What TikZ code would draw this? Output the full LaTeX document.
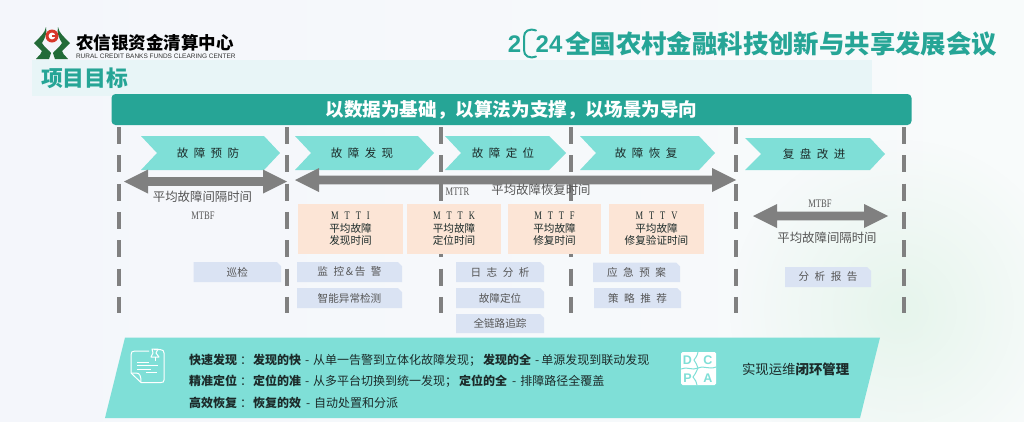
\documentclass[tikz,border=0pt]{standalone}
\usepackage{fontspec}
\setmainfont{Noto Sans CJK SC}
\newfontfamily\latinfont{Liberation Sans}
\newfontfamily\serifmarkfont{Liberation Serif}
\usetikzlibrary{fadings}
\definecolor{tealdark}{HTML}{26A596}
\definecolor{teallight}{HTML}{7FDFD7}
\definecolor{peach}{HTML}{FCE5D6}
\definecolor{tagblue}{HTML}{DAE3F3}
\definecolor{dashgray}{HTML}{808080}
\definecolor{labelgray}{HTML}{555555}
\definecolor{inkdark}{HTML}{1C2B2A}
\definecolor{logogreen}{HTML}{236B38}
\definecolor{logored}{HTML}{D8392B}
\definecolor{bgleft}{HTML}{F4F6FB}
\definecolor{bgright}{HTML}{F8FBFB}
\definecolor{bgblob}{HTML}{E6F5EC}
\definecolor{bandcol}{HTML}{E8F5F7}
\tikzfading[name=softblob,inner color=transparent!0,outer color=transparent!100]
\tikzset{
  x=1pt,y=-1pt,
  every node/.style={inner sep=0pt,outer sep=0pt},
  sep/.style={draw=dashgray,line width=4pt,dash pattern=on 17pt off 11.3pt},
  chevfill/.style={fill=teallight},
  chevtext/.style={font=\fontsize{11.5}{13}\selectfont,text=inkdark},
  arrowfill/.style={fill=dashgray},
  graylabel/.style={font=\fontsize{12.4}{14}\selectfont,text=labelgray},
  serifmark/.style={text=labelgray},
  peachbox/.style={fill=peach,align=center,text=inkdark,font=\fontsize{10.6}{12.6}\selectfont},
  tagtext/.style={font=\fontsize{10.6}{13}\selectfont,text=labelgray},
  bodyline/.style={anchor=west,font=\fontsize{12}{14}\selectfont,text=inkdark},
  iconline/.style={draw=white,line width=1pt,line join=round},
  pdcaletter/.style={font=\fontsize{12.5}{14}\latinfont\bfseries,text=teallight},
}
\newcommand{\chev}[6]{% name x1 notch shoulder y1 x2
  \fill[chevfill] (#2,#5) -- (#4,#5) -- (#6,{(#5+\ybot)/2}) -- (#4,\ybot) -- (#2,\ybot) -- (#3,{(#5+\ybot)/2}) -- cycle;
}
\newcommand{\tagbox}[6]{% name x1 x2 y1 y2 text
  \fill[tagblue] (#2,#4) -- (#3-4,#4) -- (#3,#4+4) -- (#3,#5) -- (#2,#5) -- cycle;
  \node[tagtext] (#1) at ({(#2+#3)/2},{(#4+#5)/2}) {#6};
}
\newcommand{\dblarrow}[4]{% x1 x2 y headhalf
  \fill[arrowfill] (#1,#3) -- (#1+24,#3-#4) -- (#1+24,#3-4.3) -- (#2-24,#3-4.3) -- (#2-24,#3-#4) -- (#2,#3)
    -- (#2-24,#3+#4) -- (#2-24,#3+4.3) -- (#1+24,#3+4.3) -- (#1+24,#3+#4) -- cycle;
}
\newcommand{\cjksp}{\hspace{5.5pt}}
\newcommand{\narrowmark}[1]{\scalebox{.74}[1]{\fontsize{11.5}{13}\serifmarkfont #1}}
\newcommand{\mm}{\hspace{8pt}}
\begin{document}
\begin{tikzpicture}
\useasboundingbox (0,0) rectangle (1024,421);
% background
\fill[left color=bgleft,right color=bgright] (0,0) rectangle (1024,421);
\fill[bgblob,path fading=softblob] (900,310) circle (170);

% logo
\fill[logogreen] (34,43) .. controls (40,37) and (45,33) .. (46,27) .. controls (47,33) and (46,36) .. (42,43) .. controls (44,47) and (50,51) .. (51,53) -- (49,59) -- (36,59) .. controls (39,55) and (42,54) .. (42,51) .. controls (40,49) and (37,46) .. (34,43) -- cycle;
\fill[logogreen] (70,43) .. controls (64,37) and (59,33) .. (58,27) .. controls (57,33) and (58,36) .. (62,43) .. controls (60,47) and (54,51) .. (53,53) -- (55,59) -- (68,59) .. controls (65,55) and (62,54) .. (62,51) .. controls (64,49) and (67,46) .. (70,43) -- cycle;
\fill[logored] (52,36) circle (6.5);
\fill[white] (52,36) circle (3.4);
\fill[logored] (51.5,34.8) rectangle (56.5,37.2);
\node[anchor=west,font=\fontsize{17.5}{20}\selectfont\bfseries,text=black] (brand) at (76,43) {农信银资金清算中心};
\node[anchor=west,font=\fontsize{6.5}{7}\latinfont,text=black!80] (brandsub) at (76,56.2) {RURAL CREDIT BANKS FUNDS CLEARING CENTER};

% conference title
\node[anchor=east,font=\fontsize{25.4}{28}\selectfont\bfseries,text=tealdark] (conf) at (997,43.5) {全国农村金融科技创新与共享发展会议};
\node[font=\fontsize{24}{28}\latinfont\bfseries,text=tealdark] (two) at (514.5,44) {2};
\node[font=\fontsize{24}{28}\latinfont\bfseries,text=tealdark] (tf) at (549,44) {24};
\draw[tealdark,line width=2pt,line cap=round] (536,30.5) .. controls (529,28) and (524,31) .. (524,37) -- (524,50) .. controls (524,56) and (529,59) .. (536,56.5);

% heading band
\fill[bandcol] (32,60) rectangle (872,96);
\node[anchor=west,font=\fontsize{21.8}{25}\selectfont\bfseries,text=tealdark] (goal) at (41,78.5) {项目目标};

% banner
\node[fill=tealdark,rounded corners=4pt,minimum width=800pt,minimum height=31pt,font=\fontsize{18.6}{22}\selectfont\bfseries,text=white] (banner) at (511.5,109.5) {以数据为基础，以算法为支撑，以场景为导向};

% dashed separators
\foreach \x/\nm in {119/a,287/b,441/c,571/d,736/e,904/f}{
  \coordinate (s\nm t) at (\x,127);
  \coordinate (s\nm b) at (\x,313);
  \draw[sep] (s\nm t) -- (s\nm b);
}

% chevrons
\def\ybot{170}
\chev{c1}{141}{157}{264}{136}{280}
\chev{c2}{295}{311}{418}{136}{434}
\chev{c3}{445}{461}{549}{136}{566}
\chev{c4}{580}{596}{699}{136}{715}
\chev{c5}{745}{761}{870}{138}{885}
\node[chevtext] (t1) at (208,153) {故\cjksp 障\cjksp 预\cjksp 防};
\node[chevtext] (t2) at (362,153) {故\cjksp 障\cjksp 发\cjksp 现};
\node[chevtext] (t3) at (503,153) {故\cjksp 障\cjksp 定\cjksp 位};
\node[chevtext] (t4) at (646,153) {故\cjksp 障\cjksp 恢\cjksp 复};
\node[chevtext] (t5) at (814,154.5) {复\cjksp 盘\cjksp 改\cjksp 进};

% time arrows
\dblarrow{124}{287}{181.5}{12}
\dblarrow{295}{736}{180}{12}
\dblarrow{753}{888}{216}{12}

% time labels
\node[graylabel] (l1) at (202.5,197) {平均故障间隔时间};
\node[serifmark] (l2) at (203,215.5) {\narrowmark{MTBF}};
\node[serifmark] (l3) at (457.5,192) {\narrowmark{MTTR}};
\node[graylabel] (l4) at (541,190) {平均故障恢复时间};
\node[serifmark] (l5) at (820,203.5) {\narrowmark{MTBF}};
\node[graylabel] (l6) at (827,238) {平均故障间隔时间};

% peach boxes
\node[peachbox,minimum width=105pt,minimum height=50pt] (p1) at (350.5,229) {\narrowmark{M\mm T\mm T\mm I}\\平均故障\\发现时间};
\node[peachbox,minimum width=94pt,minimum height=50pt] (p2) at (454,229) {\narrowmark{M\mm T\mm T\mm K}\\平均故障\\定位时间};
\node[peachbox,minimum width=93pt,minimum height=50pt] (p3) at (554.5,229) {\narrowmark{M\mm T\mm T\mm F}\\平均故障\\修复时间};
\node[peachbox,minimum width=95pt,minimum height=50pt] (p4) at (656.5,229) {\narrowmark{M\mm T\mm T\mm V}\\平均故障\\修复验证时间};

% tags
\tagbox{g1}{193.5}{281}{262}{282}{巡检}
\tagbox{g2}{297}{402}{262}{282}{监\cjksp 控\,\&\,告\cjksp 警}
\tagbox{g3}{297}{402}{288}{308}{智能异常检测}
\tagbox{g4}{456}{544}{262}{282}{日\cjksp 志\cjksp 分\cjksp 析}
\tagbox{g5}{456}{544}{288}{308}{故障定位}
\tagbox{g6}{456}{544}{314}{333}{全链路追踪}
\tagbox{g7}{593}{680}{262.5}{282}{应\cjksp 急\cjksp 预\cjksp 案}
\tagbox{g8}{594}{681}{288}{308}{策\cjksp 略\cjksp 推\cjksp 荐}
\tagbox{g9}{785}{871}{267}{287}{分\cjksp 析\cjksp 报\cjksp 告}

% bottom band
\fill[teallight] (125,337.5) -- (880,337.5) -- (860,418) -- (105,418) -- cycle;

% note icon
\draw[iconline] (154,349.5) -- (160,349.5) .. controls (163,349.5) and (164,351) .. (164,353) -- (164,380) .. controls (164,382) and (163,382.5) .. (161,382.5) -- (141,382.5) -- (131,373) -- (131,355) .. controls (131,352) and (132,351) .. (135,351) -- (149,351);
\draw[iconline] (131,373) -- (136,373) .. controls (140,373) and (141,376) .. (141,382.5);
\draw[iconline] (152,349) -- (158,349) -- (156,353) -- (159,357) -- (151,357) -- (153,353) -- cycle;
\draw[iconline] (155,357) -- (155,361);
\draw[iconline] (137,362) -- (149,362) (137,365.5) -- (158,365.5) (137,369) -- (151,369) (146,372.5) -- (157,372.5);

% body text
\node[bodyline] (b1) at (189,360) {\textbf{快速发现}\hspace{3pt}：\hspace{1pt}\textbf{发现的快}\hspace{4pt}-\hspace{4pt}从单一告警到立体化故障发现；\hspace{2pt}\textbf{发现的全}\hspace{4pt}-\hspace{2pt}单源发现到联动发现};
\node[bodyline] (b2) at (189,381.5) {\textbf{精准定位}\hspace{3pt}：\hspace{1pt}\textbf{定位的准}\hspace{4pt}-\hspace{4pt}从多平台切换到统一发现；\hspace{2pt}\textbf{定位的全}\hspace{5pt}-\hspace{4pt}排障路径全覆盖};
\node[bodyline] (b3) at (189,403) {\textbf{高效恢复}\hspace{3pt}：\hspace{1pt}\textbf{恢复的效}\hspace{5pt}-\hspace{4pt}自动处置和分派};

% PDCA icon
\fill[white,rounded corners=1.5pt] (681,352) rectangle (716,385);
\draw[teallight,line width=1pt] (698,352) .. controls (697,357) and (695,358) .. (694,360) .. controls (695,363) and (698,365) .. (698,368);
\draw[teallight,line width=1pt] (681,369) .. controls (687,366) and (692,371) .. (698,368) .. controls (703,365) and (709,370) .. (716,367);
\draw[teallight,line width=1pt] (698,368) .. controls (696,372) and (695,375) .. (693,377) .. controls (695,380) and (697,382) .. (697,385);
\node[pdcaletter] (dd) at (687.5,360) {D};
\node[pdcaletter] (cc) at (708,360.5) {C};
\node[pdcaletter] (pp) at (687.5,378) {P};
\node[pdcaletter] (aa) at (708,378.5) {A};
\node[anchor=west,font=\fontsize{13.4}{16}\selectfont,text=inkdark] (closed) at (742,369) {实现运维\textbf{闭环管理}};
\end{tikzpicture}
\end{document}
